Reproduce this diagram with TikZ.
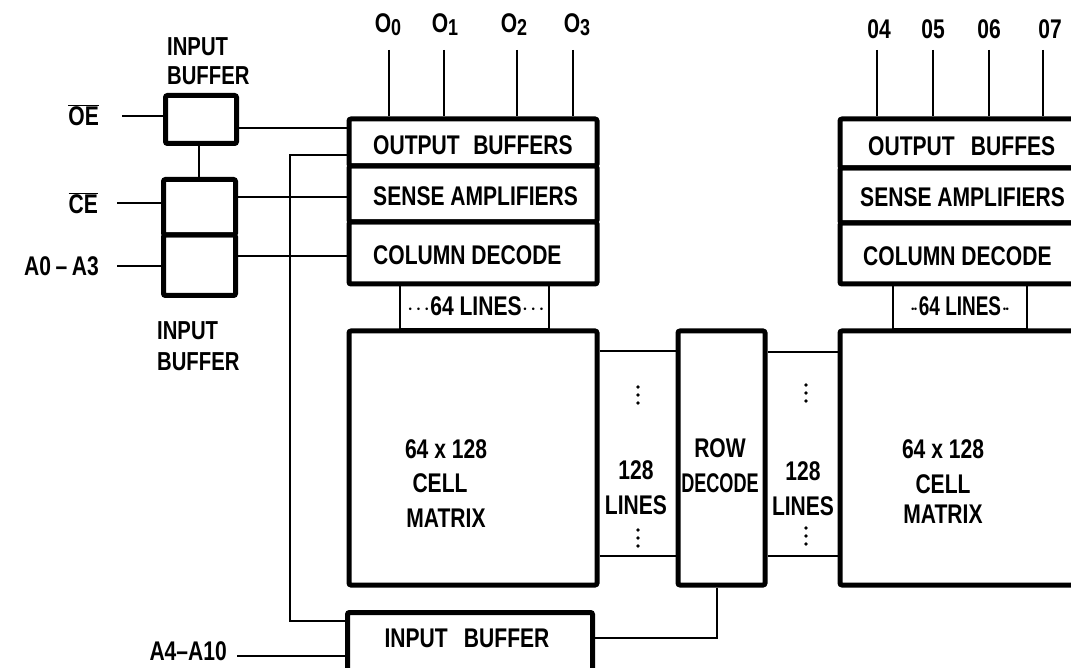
\documentclass[tikz,border=0pt]{standalone}
\usepackage{fontspec}
\setmainfont{Liberation Sans}[FakeStretch=0.78]
\begin{document}
\begin{tikzpicture}[x=1pt,y=-1pt,
  thickbox/.style={draw, line width=5pt, rounded corners=2pt, inner sep=0pt},
  thinbox/.style={draw, line width=2.2pt, inner sep=0pt},
  wire/.style={line width=2.2pt},
  lbl/.style={font=\fontsize{27}{35}\selectfont\bfseries, inner sep=0pt},
  dotc/.style={fill, circle, inner sep=0pt, minimum size=3.6pt}]
\useasboundingbox (0,0) rectangle (1071,668);
% ---------- left input buffers ----------
\node[thickbox, minimum width=71pt, minimum height=48pt] (oebox) at (201,119.5) {};
\node[thickbox, minimum width=72pt, minimum height=55.5pt] (cebox) at (199.5,207.25) {};
\node[thickbox, minimum width=72pt, minimum height=60.5pt] (abox) at (199.5,265.25) {};
\node[lbl, align=left, anchor=north west, font=\fontsize{26}{29}\selectfont\bfseries] (ibtop) at (167,37) {INPUT\\BUFFER};
\node[lbl, align=left, anchor=north west, font=\fontsize{26}{31}\selectfont\bfseries] (ibbot) at (157,321) {INPUT\\BUFFER};
\node[lbl, anchor=east] (oelbl) at (99,115) {$\overline{\mbox{OE}}$};
\node[lbl, anchor=east] (celbl) at (98,203) {$\overline{\mbox{CE}}$};
\node[lbl, anchor=east] (albl) at (99,266) {A0\,--\,A3};
\coordinate (oein) at (122,116);
\coordinate (cein) at (117,203);
\coordinate (ain) at (117,266);
\draw[wire] (oein) -- (oein -| oebox.west);
\draw[wire] (cein) -- (cein -| cebox.west);
\draw[wire] (ain) -- (ain -| abox.west);
\draw[wire] (oebox.south -| 199,0) -- (cebox.north -| 199,0);
% ---------- left column block ----------
\node[thickbox, minimum width=248pt, minimum height=47pt] (ob1) at (473,142.5) {};
\node[thickbox, minimum width=248pt, minimum height=56pt] (sa1) at (473,194) {};
\node[thickbox, minimum width=248pt, minimum height=62pt] (cd1) at (473,253) {};
\node[lbl, anchor=west] (ob1t) at (373,145) {OUTPUT\hspace{0.5em}BUFFERS};
\node[lbl, anchor=west] (sa1t) at (373,196) {SENSE AMPLIFIERS};
\node[lbl, anchor=west] (cd1t) at (373,255) {COLUMN DECODE};
\node[thinbox, minimum width=149pt, minimum height=45pt] (l64a) at (474.5,306.5) {};
\node[lbl] (l64at) at (476,306) {$\cdot\!\cdot\!\cdot$64 LINES$\cdot\!\cdot\!\cdot$};
% wires from buffers into block
\draw[wire] (oebox.east |- 0,128) -- (ob1.west |- 0,128);
\draw[wire] (cebox.east |- 0,197) -- (sa1.west |- 0,197);
\draw[wire] (abox.east |- 0,256) -- (cd1.west |- 0,256);
% output pins
\foreach \x/\n/\lx/\t in {389/p0/388/0,444/p1/445/1,517/p2/514/2,573/p3/577/3}{
  \coordinate (\n) at (\x,50);
  \node[lbl] (\n t) at (\lx,25) {O\raisebox{-3pt}{\fontsize{23}{23}\selectfont\t}};
  \draw[wire] (\n) -- (\n |- ob1.north);
}
% ---------- left cell matrix ----------
\node[thickbox, minimum width=248pt, minimum height=254pt] (cm1) at (473,458) {};
\node[lbl, align=center] (cm1t) at (446,484) {64 x 128\\[-1pt]\hspace*{-12pt}CELL\\MATRIX};
% ---------- row decode ----------
\node[thickbox, minimum width=87pt, minimum height=254pt] (rd) at (721.5,458) {};
\node[lbl, align=center] (rdt) at (720,466) {ROW\\\scalebox{0.86}[1]{DECODE}};
% 128 lines left
\draw[wire] (cm1.east |- 0,351) -- (rd.west |- 0,351);
\draw[wire] (cm1.east |- 0,556) -- (rd.west |- 0,556);
\node[lbl, align=center] (l128a) at (636,488) {128\\LINES};
\foreach \y in {387,395,403,530,538,546} \node[dotc] at (638,\y) {};
% ---------- right cell matrix ----------
\node[thickbox, minimum width=260pt, minimum height=254pt] (cm2) at (970,458) {};
\node[lbl, align=center] (cm2t) at (943,482) {64 x 128\\CELL\\[-5pt]MATRIX};
% 128 lines right
\draw[wire] (rd.east |- 0,352) -- (cm2.west |- 0,352);
\draw[wire] (rd.east |- 0,556) -- (cm2.west |- 0,556);
\node[lbl, align=center] (l128b) at (803,489) {128\\LINES};
\foreach \y in {385,393,401,528,536,544} \node[dotc] at (806,\y) {};
% ---------- right column block ----------
\node[thickbox, minimum width=260pt, minimum height=49pt] (ob2) at (970,143.5) {};
\node[thickbox, minimum width=260pt, minimum height=55pt] (sa2) at (970,195.5) {};
\node[thickbox, minimum width=260pt, minimum height=61pt] (cd2) at (970,253.5) {};
\node[lbl, anchor=west] (ob2t) at (868,146) {OUTPUT\hspace{0.6em}BUFFES};
\node[lbl, anchor=west] (sa2t) at (860,197) {SENSE AMPLIFIERS};
\node[lbl, anchor=west] (cd2t) at (863,256) {COLUMN DECODE};
\node[thinbox, minimum width=134pt, minimum height=45pt] (l64b) at (960,306.5) {};
\node[lbl] (l64bt) at (960,306) {$\cdot\!\cdot$\scalebox{0.9}[1]{64 LINES}$\cdot\!\cdot$};
\foreach \x/\n/\lx/\t in {877/p4/879/04,933/p5/933/05,989/p6/989/06,1043/p7/1050/07}{
  \coordinate (\n) at (\x,50);
  \node[lbl] (\n t) at (\lx,29) {\t};
  \draw[wire] (\n) -- (\n |- ob2.north);
}
% ---------- bottom input buffer ----------
\node[thickbox, minimum width=245pt, minimum height=90pt] (ib3) at (470,657.5) {};
\node[lbl] (ib3t) at (467,638) {INPUT\hspace{0.6em}BUFFER};
\node[lbl, anchor=east] (a4lbl) at (227,651) {A4--A10};
\coordinate (a4in) at (237,656);
\draw[wire] (a4in) -- (a4in -| ib3.west);
% long control line
\draw[wire] (ob1.west |- 0,155) -- (290,155) -- (290,621) -- (ib3.west |- 0,621);
% row decode to input buffer
\draw[wire] (rd.south -| 717,0) -- (717,638) -- (ib3.east |- 0,638);
\end{tikzpicture}
\end{document}
